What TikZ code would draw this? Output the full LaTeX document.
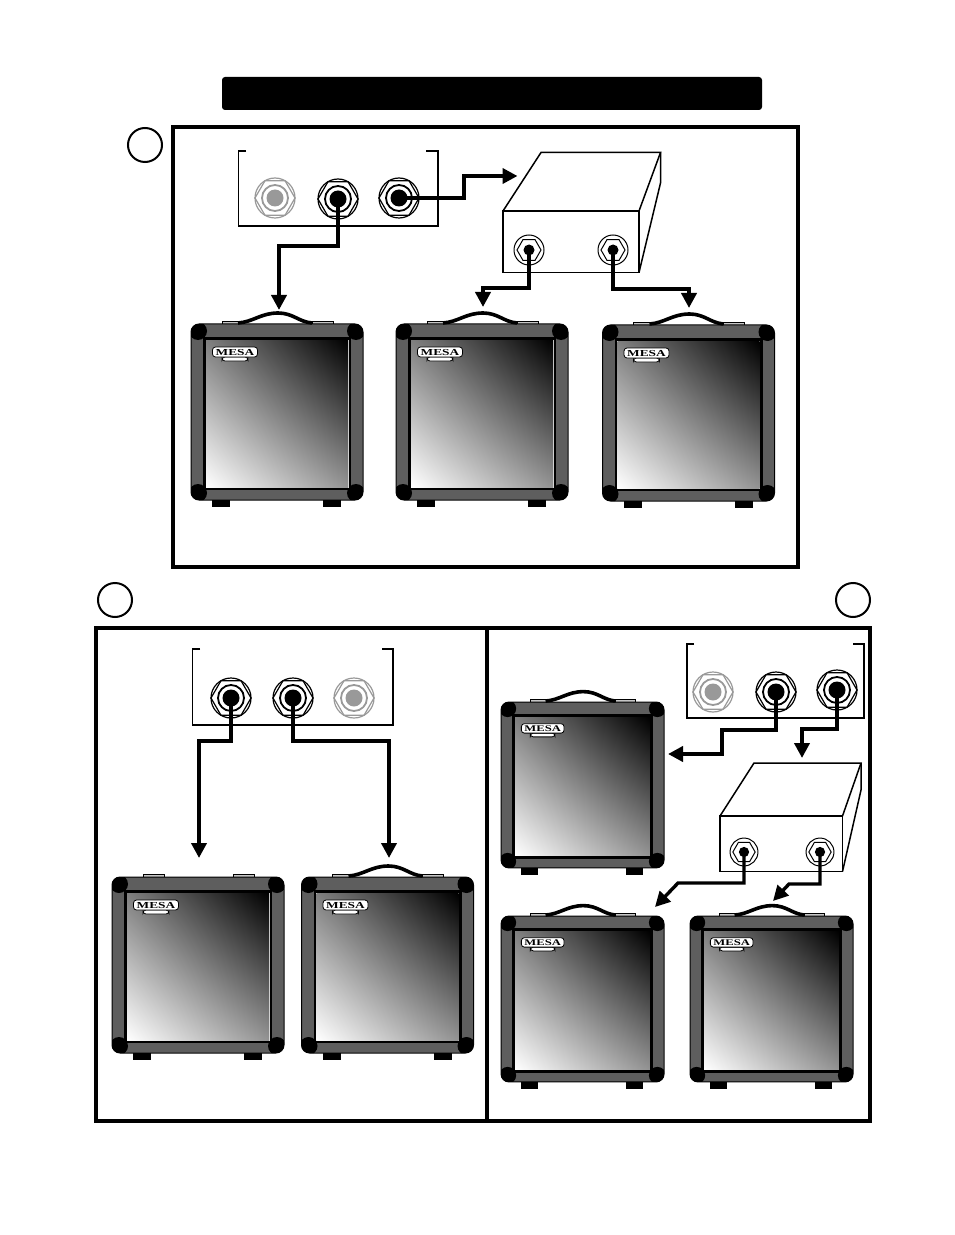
\documentclass[tikz,border=0pt]{standalone}
\usepackage{xcolor}
\usepackage{fontspec}
\usetikzlibrary{arrows.meta,calc,positioning,shadings}

\newfontfamily\badgefont[FakeStretch=1.45]{Liberation Serif}

\definecolor{cabgray}{gray}{0.37}
\definecolor{jackoff}{gray}{0.6}

\tikzset{
  cable/.style={draw,line width=2pt,->,>={Triangle[length=7.5pt,width=7.5pt]}},
  thincable/.style={cable,line width=1.7pt},
  outline/.style={draw,line width=.75pt},
  frame/.style={draw,line width=2pt},
  marker/.style={circle,draw,line width=1pt,minimum size=17pt,inner sep=0pt},
  pics/jack/.style={code={
    \coordinate (-c) at (0,0);
    \draw[#1,line width=.6pt] (0,0) circle (20);
    \draw[#1,line width=.6pt] (0:20) -- (60:20) -- (120:20) -- (180:20) -- (240:20) -- (300:20) -- cycle;
    \draw[#1,line width=.9pt] (0,0) circle (13);
    \fill[#1] (0,0) circle (8.5);
  }},
  pics/smalljack/.style={code={
    \coordinate (-c) at (0,0);
    \draw[line width=.5pt] (0,0) circle (15);
    \draw[line width=.5pt] (0:12) -- (60:12) -- (120:12) -- (180:12) -- (240:12) -- (300:12) -- cycle;
    \fill (0,0) circle (5.5);
  }},
  pics/cab/.style={code={
    \coordinate (-top) at (86,-11);
    % tabs and feet
    \draw[fill=gray!45,line width=.3pt] (31,-3) rectangle (52,0);
    \draw[fill=gray!45,line width=.3pt] (121,-3) rectangle (142,0);
    \fill (21,176) rectangle (39,183);
    \fill (132,176) rectangle (150,183);
    % body
    \begin{scope}
      \clip[rounded corners=4pt] (0,0) rectangle (172,176);
      \fill[cabgray] (0,0) rectangle (172,176);
      \fill (7,7) circle (9) (165,7) circle (9) (7,169) circle (9) (165,169) circle (9);
    \end{scope}
    \draw[line width=.5pt,rounded corners=4pt] (0,0) rectangle (172,176);
    % grille
    \fill (12,13) rectangle (160,166);
    \fill[gray!25] (14.5,15.5) rectangle (157.5,163.5);
    \shade[lower left=white,upper right=black,lower right=gray!85,upper left=gray] (15,16) rectangle (157,163);
    % badge
    \draw[fill=white,line width=.4pt,rounded corners=1.5pt] (31,33) rectangle (57,37);
    \node (-logo) [draw,fill=white,line width=.4pt,rounded corners=1.5pt,inner sep=0pt,
      minimum width=22.5pt,minimum height=5pt,transform shape,
      font=\badgefont\bfseries\fontsize{4.6}{5}\selectfont] at (44,28) {MESA};
  }},
  pics/handle/.style={code={
    \draw[line width=1.8pt] (47,-1) .. controls (62,-2) and (70,-11) .. (87,-11)
      .. controls (102,-11) and (108,-2) .. (121,-1);
  }}
}

\begin{document}
\begin{tikzpicture}[x=.5pt,y=-.5pt]
  \useasboundingbox (0,0) rectangle (954,1235);

  % title bar and frames
  \fill[rounded corners=1.5pt] (222,77) rectangle (762,110);
  \draw[frame] (173,127) rectangle (798,567);
  \draw[frame] (96,628) rectangle (870,1121);
  \draw[frame] (486.5,628) -- (486.5,1121);
  \node (markA) [marker] at (145,145) {};
  \node (markB) [marker] at (115,600) {};
  \node (markC) [marker] at (853,600) {};

  % jack panels
  \draw[outline] (246,151) -- (238.5,151) -- (238.5,226) -- (438,226) -- (438,151) -- (426,151);
  \draw[outline] (200,649) -- (192.5,649) -- (192.5,725) -- (393,725) -- (393,649) -- (382,649);
  \draw[outline] (694,644) -- (687,644) -- (687,718) -- (864,718) -- (864,644) -- (853,644);

  \pic (jackA) at (275,198) {jack=jackoff};
  \pic (jackB) at (338,199) {jack=black};
  \pic (jackC) at (399,198) {jack=black};
  \pic (jackD) at (231,698) {jack=black};
  \pic (jackE) at (293,698) {jack=black};
  \pic (jackF) at (354,698) {jack=jackoff};
  \pic (jackG) at (713,692) {jack=jackoff};
  \pic (jackH) at (776,692) {jack=black};
  \pic (jackI) at (837,690) {jack=black};

  % effects boxes
  \draw[outline] (503,211) rectangle (639,272.5);
  \draw[outline] (503,211) -- (541,152.5) -- (660.5,152.5) -- (639,211);
  \draw[outline] (660.5,152.5) -- (660.5,183) -- (639,272.5);
  \pic (sendA) at (529,250) {smalljack};
  \pic (sendB) at (613,250) {smalljack};

  \draw[outline] (720,816) rectangle (842.5,871.5);
  \draw[outline] (720,816) -- (754,763) -- (861,763) -- (842.5,816);
  \draw[outline] (861,763) -- (861,790) -- (842.5,871.5);
  \pic (sendC) [scale=.93] at (744,852) {smalljack};
  \pic (sendD) [scale=.93] at (820,852) {smalljack};

  % cabinets
  \pic (cabA) at (191,324) {cab};
  \pic at (191,324) {handle};
  \pic (cabB) at (396,324) {cab};
  \pic at (396,324) {handle};
  \pic (cabC) at (602.5,325) {cab};
  \pic at (602.5,325) {handle};
  \pic (cabD) at (112,877) {cab};
  \pic (cabE) at (301.5,877) {cab};
  \pic at (301.5,877) {handle};
  \pic (cabF) [xscale=.948,yscale=.943] at (501,702) {cab};
  \pic [xscale=.948,yscale=.943] at (501,702) {handle};
  \pic (cabG) [xscale=.948,yscale=.943] at (501,916) {cab};
  \pic [xscale=.948,yscale=.943] at (501,916) {handle};
  \pic (cabH) [xscale=.948,yscale=.943] at (690,916) {cab};
  \pic [xscale=.948,yscale=.943] at (690,916) {handle};

  % cable ends
  \coordinate (inA) at (279,310);
  \coordinate (inBox) at (517.5,176);
  \coordinate (inB) at (483,307);
  \coordinate (inC) at (689,308);
  \coordinate (inD) at (199,858);
  \coordinate (inE) at (389,858);
  \coordinate (inF) at (668,754);
  \coordinate (inBoxB) at (802,758);
  \coordinate (inG) at (655,907);
  \coordinate (inH) at (773,901);

  % cables
  \path[cable] (jackB-c) -- ++(0,47) -| (inA);
  \path[cable] (jackC-c) -- ++(65,0) |- (inBox);
  \path[cable] (sendA-c) -- ++(0,38) -| (inB);
  \path[cable] (sendB-c) -- ++(0,39) -| (inC);
  \path[cable] (jackD-c) -- ++(0,43) -| (inD);
  \path[cable] (jackE-c) -- ++(0,43) -| (inE);
  \path[cable] (jackH-c) -- ++(0,38) -- ++(-54,0) |- (inF);
  \path[cable] (jackI-c) -- ++(0,39) -| (inBoxB);
  \path[thincable] (sendC-c) -- ++(0,31) -- ++(-66,0) -- (inG);
  \path[thincable] (sendD-c) -- ++(0,32) -- ++(-31,0) -- (inH);
\end{tikzpicture}
\end{document}
